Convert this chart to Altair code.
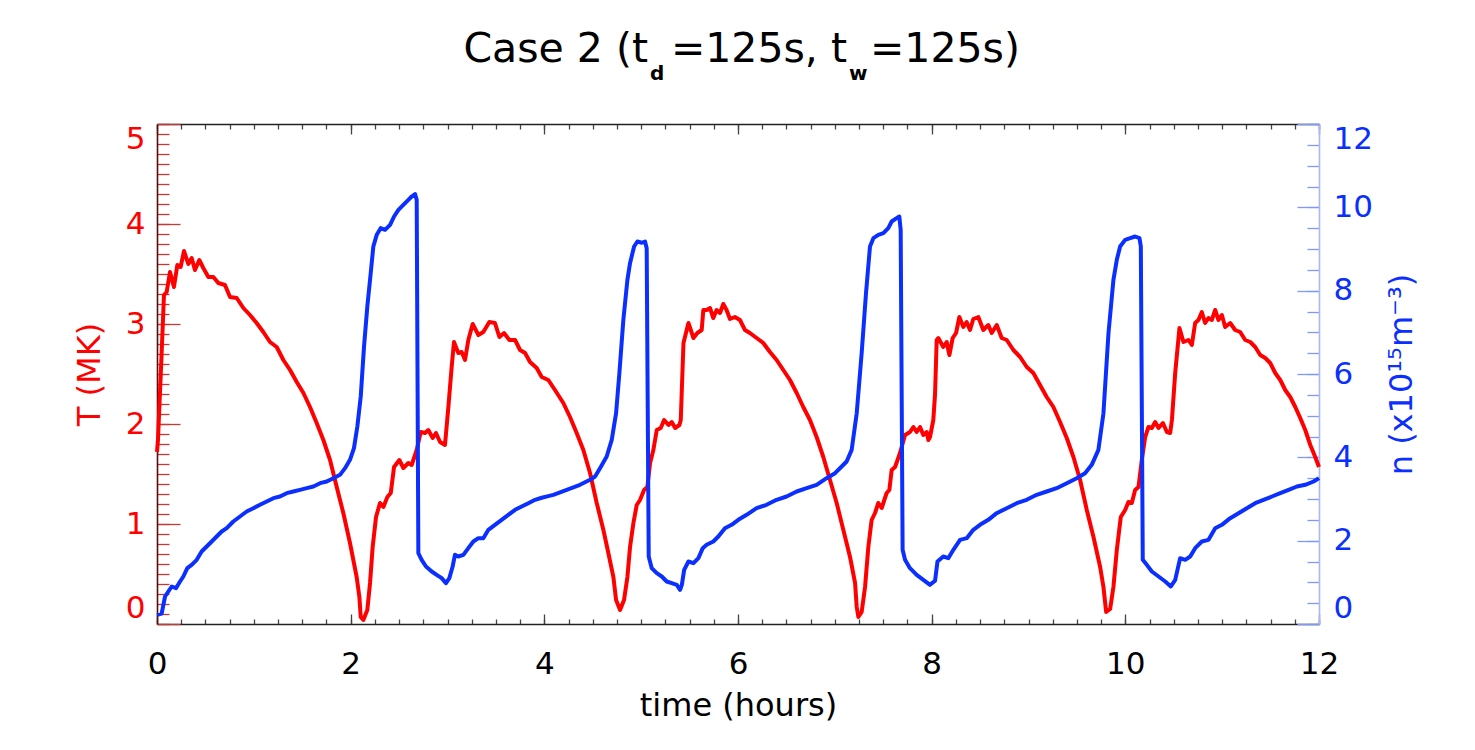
import altair as alt
import pandas as pd

# Loop-top temperature (MK) against time (hours)
temperature = [
    (0.0, 1.72), (0.01, 1.84), (0.048, 2.71), (0.072, 3.29), (0.10, 3.32), (0.134, 3.52),
    (0.175, 3.37), (0.21, 3.59), (0.244, 3.57), (0.279, 3.73), (0.323, 3.60), (0.358, 3.66),
    (0.392, 3.54), (0.437, 3.64), (0.478, 3.56), (0.53, 3.47), (0.582, 3.47), (0.633, 3.41),
    (0.702, 3.39), (0.754, 3.27), (0.823, 3.26), (0.892, 3.16), (0.96, 3.09), (1.029, 3.01),
    (1.098, 2.92), (1.167, 2.82), (1.236, 2.77), (1.305, 2.64), (1.374, 2.54), (1.443, 2.42),
    (1.512, 2.31), (1.58, 2.17), (1.649, 2.01), (1.718, 1.84), (1.787, 1.64), (1.856, 1.37),
    (1.924, 1.11), (1.993, 0.81), (2.062, 0.47), (2.09, 0.27), (2.104, 0.07), (2.131, 0.04),
    (2.172, 0.14), (2.2, 0.41), (2.227, 0.77), (2.262, 1.07), (2.303, 1.21), (2.338, 1.17),
    (2.379, 1.27), (2.414, 1.31), (2.448, 1.57), (2.503, 1.64), (2.544, 1.56), (2.596, 1.61),
    (2.63, 1.59), (2.682, 1.74), (2.723, 1.92), (2.768, 1.91), (2.802, 1.94), (2.847, 1.86),
    (2.881, 1.91), (2.923, 1.82), (2.974, 1.79), (3.009, 2.17), (3.043, 2.57), (3.067, 2.82),
    (3.112, 2.71), (3.146, 2.72), (3.181, 2.64), (3.215, 2.84), (3.26, 3.00), (3.319, 2.89),
    (3.37, 2.92), (3.432, 3.02), (3.49, 3.01), (3.536, 2.87), (3.584, 2.91), (3.639, 2.84),
    (3.698, 2.84), (3.749, 2.74), (3.801, 2.71), (3.852, 2.62), (3.921, 2.56), (3.973, 2.47),
    (4.041, 2.44), (4.11, 2.34), (4.196, 2.21), (4.265, 2.07), (4.334, 1.91), (4.403, 1.74),
    (4.472, 1.51), (4.541, 1.21), (4.61, 0.94), (4.661, 0.71), (4.713, 0.47), (4.741, 0.24),
    (4.782, 0.14), (4.823, 0.24), (4.858, 0.47), (4.885, 0.77), (4.92, 1.01), (4.954, 1.19),
    (4.988, 1.24), (5.03, 1.34), (5.064, 1.37), (5.092, 1.61), (5.126, 1.74), (5.161, 1.94),
    (5.202, 1.96), (5.237, 2.04), (5.282, 1.99), (5.316, 2.02), (5.351, 1.96), (5.395, 1.99),
    (5.409, 2.04), (5.437, 2.81), (5.488, 3.01), (5.54, 2.86), (5.58, 2.91), (5.625, 2.94),
    (5.642, 3.14), (5.676, 3.14), (5.711, 3.16), (5.745, 3.06), (5.779, 3.14), (5.814, 3.11),
    (5.848, 3.20), (5.882, 3.14), (5.917, 3.05), (5.968, 3.07), (6.02, 3.04), (6.072, 2.94),
    (6.123, 2.91), (6.192, 2.86), (6.261, 2.81), (6.33, 2.72), (6.399, 2.64), (6.468, 2.54),
    (6.537, 2.44), (6.606, 2.31), (6.674, 2.17), (6.743, 2.04), (6.812, 1.87), (6.881, 1.67),
    (6.95, 1.44), (7.019, 1.21), (7.088, 0.94), (7.157, 0.67), (7.209, 0.41), (7.226, 0.17),
    (7.243, 0.07), (7.277, 0.12), (7.312, 0.37), (7.346, 0.77), (7.38, 1.04), (7.415, 1.11),
    (7.449, 1.21), (7.484, 1.16), (7.535, 1.31), (7.563, 1.34), (7.587, 1.54), (7.622, 1.57),
    (7.673, 1.71), (7.725, 1.89), (7.776, 1.92), (7.811, 1.97), (7.845, 1.92), (7.88, 1.97),
    (7.914, 1.89), (7.949, 1.92), (7.966, 1.84), (7.983, 1.87), (8.017, 2.04), (8.035, 2.30),
    (8.052, 2.84), (8.069, 2.86), (8.12, 2.77), (8.155, 2.82), (8.183, 2.69), (8.217, 2.86),
    (8.252, 2.91), (8.286, 3.07), (8.327, 2.97), (8.361, 3.02), (8.396, 2.94), (8.43, 3.05),
    (8.482, 3.07), (8.533, 2.94), (8.585, 2.99), (8.62, 2.91), (8.672, 2.99), (8.723, 2.86),
    (8.775, 2.84), (8.844, 2.74), (8.913, 2.67), (8.982, 2.57), (9.05, 2.51), (9.119, 2.39),
    (9.188, 2.27), (9.257, 2.17), (9.326, 2.02), (9.395, 1.86), (9.464, 1.67), (9.533, 1.44),
    (9.602, 1.14), (9.671, 0.87), (9.74, 0.57), (9.774, 0.37), (9.802, 0.12), (9.843, 0.15),
    (9.877, 0.37), (9.912, 0.74), (9.953, 1.07), (9.998, 1.14), (10.032, 1.22), (10.067, 1.21),
    (10.101, 1.34), (10.136, 1.37), (10.17, 1.64), (10.205, 1.87), (10.239, 1.97), (10.274, 1.96),
    (10.308, 2.02), (10.343, 1.96), (10.388, 2.01), (10.429, 1.92), (10.463, 1.91), (10.481, 2.04),
    (10.515, 2.51), (10.559, 2.96), (10.6, 2.82), (10.652, 2.84), (10.687, 2.79), (10.721, 3.01),
    (10.755, 3.04), (10.79, 3.12), (10.824, 3.01), (10.859, 3.06), (10.893, 3.04), (10.928, 3.14),
    (10.962, 3.04), (10.997, 3.09), (11.031, 2.97), (11.083, 3.01), (11.134, 2.94), (11.186, 2.92),
    (11.238, 2.84), (11.29, 2.82), (11.341, 2.77), (11.393, 2.69), (11.445, 2.66), (11.496, 2.61),
    (11.548, 2.51), (11.6, 2.44), (11.651, 2.34), (11.703, 2.27), (11.755, 2.17), (11.806, 2.06),
    (11.858, 1.94), (11.91, 1.79), (11.961, 1.67), (12.0, 1.57),
]

# Loop-top density (10^15 m^-3) against time (hours)
density = [
    (0.0, 0.22), (0.048, 0.25), (0.083, 0.66), (0.117, 0.78), (0.152, 0.90), (0.196, 0.86),
    (0.238, 1.02), (0.272, 1.14), (0.313, 1.34), (0.358, 1.42), (0.41, 1.54), (0.461, 1.74),
    (0.513, 1.86), (0.565, 1.98), (0.616, 2.10), (0.668, 2.22), (0.72, 2.30), (0.788, 2.46),
    (0.857, 2.58), (0.926, 2.70), (0.995, 2.78), (1.064, 2.86), (1.133, 2.94), (1.202, 3.02),
    (1.27, 3.06), (1.339, 3.14), (1.408, 3.18), (1.477, 3.22), (1.546, 3.26), (1.615, 3.30),
    (1.684, 3.38), (1.753, 3.42), (1.821, 3.50), (1.89, 3.58), (1.942, 3.74), (1.993, 3.94),
    (2.034, 4.22), (2.069, 4.74), (2.104, 5.46), (2.138, 6.66), (2.172, 7.62), (2.207, 8.42),
    (2.234, 9.06), (2.269, 9.34), (2.31, 9.50), (2.355, 9.46), (2.407, 9.58), (2.448, 9.78),
    (2.493, 9.94), (2.544, 10.06), (2.596, 10.18), (2.63, 10.26), (2.665, 10.32), (2.682, 10.18),
    (2.699, 1.70), (2.733, 1.54), (2.778, 1.38), (2.837, 1.26), (2.888, 1.18), (2.94, 1.10),
    (2.984, 0.98), (3.019, 1.10), (3.053, 1.38), (3.077, 1.66), (3.112, 1.62), (3.164, 1.66),
    (3.215, 1.82), (3.267, 1.98), (3.319, 2.06), (3.37, 2.06), (3.422, 2.26), (3.49, 2.38),
    (3.559, 2.50), (3.628, 2.62), (3.698, 2.74), (3.766, 2.82), (3.835, 2.90), (3.904, 2.98),
    (3.973, 3.03), (4.041, 3.07), (4.093, 3.10), (4.231, 3.22), (4.368, 3.34), (4.472, 3.46),
    (4.524, 3.54), (4.575, 3.74), (4.644, 4.02), (4.696, 4.42), (4.741, 5.06), (4.775, 6.02),
    (4.816, 7.30), (4.858, 8.26), (4.885, 8.66), (4.927, 9.06), (4.961, 9.18), (5.006, 9.15),
    (5.04, 9.18), (5.057, 9.02), (5.064, 6.50), (5.078, 1.62), (5.109, 1.34), (5.161, 1.22),
    (5.213, 1.14), (5.264, 1.02), (5.316, 0.98), (5.368, 0.94), (5.402, 0.82), (5.42, 0.94),
    (5.444, 1.30), (5.488, 1.50), (5.54, 1.46), (5.591, 1.58), (5.636, 1.82), (5.676, 1.90),
    (5.745, 1.98), (5.797, 2.10), (5.865, 2.30), (5.934, 2.38), (6.003, 2.50), (6.089, 2.62),
    (6.192, 2.78), (6.295, 2.86), (6.399, 2.98), (6.502, 3.06), (6.606, 3.18), (6.709, 3.26),
    (6.812, 3.34), (6.915, 3.50), (7.002, 3.62), (7.071, 3.78), (7.122, 3.90), (7.174, 4.18),
    (7.226, 5.06), (7.277, 6.50), (7.322, 7.94), (7.363, 9.06), (7.398, 9.26), (7.449, 9.34),
    (7.501, 9.38), (7.552, 9.50), (7.587, 9.66), (7.638, 9.74), (7.666, 9.78), (7.68, 9.46),
    (7.70, 1.78), (7.725, 1.54), (7.776, 1.34), (7.845, 1.18), (7.914, 1.06), (7.983, 0.94),
    (8.035, 1.04), (8.06, 1.50), (8.12, 1.62), (8.172, 1.58), (8.224, 1.78), (8.293, 2.02),
    (8.362, 2.06), (8.43, 2.26), (8.499, 2.38), (8.585, 2.50), (8.671, 2.66), (8.775, 2.78),
    (8.878, 2.90), (8.981, 2.98), (9.085, 3.10), (9.188, 3.18), (9.291, 3.26), (9.395, 3.38),
    (9.498, 3.50), (9.584, 3.62), (9.653, 3.82), (9.722, 4.18), (9.774, 5.06), (9.826, 6.98),
    (9.877, 8.26), (9.912, 8.74), (9.946, 9.06), (9.998, 9.22), (10.05, 9.26), (10.101, 9.30),
    (10.146, 9.26), (10.16, 9.06), (10.18, 1.54), (10.222, 1.42), (10.274, 1.26), (10.343, 1.14),
    (10.412, 1.02), (10.47, 0.90), (10.515, 1.06), (10.566, 1.58), (10.618, 1.54), (10.67, 1.62),
    (10.721, 1.82), (10.79, 1.98), (10.859, 2.02), (10.928, 2.30), (10.997, 2.38), (11.083, 2.54),
    (11.169, 2.66), (11.255, 2.78), (11.341, 2.90), (11.427, 2.98), (11.514, 3.06), (11.6, 3.14),
    (11.686, 3.22), (11.772, 3.30), (11.858, 3.34), (11.944, 3.42), (12.0, 3.50),
]

# Tick positions
hour_major = [0, 2, 4, 6, 8, 10, 12]
hour_minor = [i * 0.25 for i in range(49)]
temp_major = [0, 1, 2, 3, 4, 5]
temp_minor = [round(i * 0.1, 1) for i in range(51)]
dens_major = [0, 2, 4, 6, 8, 10, 12]
dens_minor = [i * 0.5 for i in range(25)]

# Title pieces: (text, x, y, size, weight, align)
title_parts = [
    ("Case 2 (t", 491, -62, 41, "normal", "right"),
    ("d", 493, -44, 20, "bold", "left"),
    ("=125s, t", 690, -62, 41, "normal", "right"),
    ("w", 692, -44, 20, "bold", "left"),
    ("=125s)", 713, -62, 41, "normal", "left"),
]

FONT = "DejaVu Sans"
W, H = 1162, 500
RED = "#ff0000"
BLUE = "#0a2fff"
LBL = 31

df_t = pd.DataFrame(temperature, columns=["hours", "T"])
df_n = pd.DataFrame(density, columns=["hours", "n"])

x_scale = alt.Scale(domain=[0, 12], nice=False, zero=False)
t_scale = alt.Scale(domain=[0, 5], nice=False, zero=False)
n_scale = alt.Scale(domain=[0, 12], nice=False, zero=False)


def tick_axis(orient, values, size, color):
    # inward-pointing ticks: shift the axis into the plot by its tick length
    return alt.Axis(orient=orient, values=values, offset=-size, tickSize=size,
                    tickColor=color, tickWidth=1.3, domain=False, labels=False,
                    grid=False, title=None)


x_bottom = alt.Axis(
    orient="bottom", values=hour_major, ticks=False, tickSize=0, grid=False,
    domainColor="#222222", domainWidth=1.6, format="d",
    labelFont=FONT, labelFontSize=LBL, labelColor="black", labelPadding=25, labelFlush=False,
    title="time (hours)", titleFont=FONT, titleFontSize=32, titleFontWeight="normal",
    titleColor="black", titleX=581, titleY=81, titleAlign="center", titleBaseline="middle",
)
x_top = alt.Axis(orient="top", labels=False, ticks=False, tickSize=0, grid=False,
                 domainColor="#222222", domainWidth=1.6, title=None)

y_temp = alt.Axis(
    orient="left", values=temp_major, ticks=False, tickSize=0, grid=False,
    domainColor="#5c0b0b", domainWidth=1.6, format="d",
    labelFont=FONT, labelFontSize=LBL, labelColor=RED, labelPadding=12, labelFlush=True,
    title="T (MK)", titleFont=FONT, titleFontSize=32, titleFontWeight="normal",
    titleColor=RED, titleAngle=270, titleX=-68, titleY=250, titleAlign="center",
    titleBaseline="middle",
)
y_dens = alt.Axis(
    orient="right", values=dens_major, ticks=False, tickSize=0, grid=False,
    domainColor="#a9b6ff", domainWidth=1.6, format="d",
    labelFont=FONT, labelFontSize=LBL, labelColor=BLUE, labelPadding=14, labelFlush=True,
    title="n (x10¹⁵m⁻³)", titleFont=FONT, titleFontSize=32, titleFontWeight="normal",
    titleColor=BLUE, titleAngle=270, titleX=82, titleY=250, titleAlign="center",
    titleBaseline="middle",
)


def ghost(df, field, yscale, xaxis, yaxis):
    return alt.Chart(df).mark_line(opacity=0).encode(
        x=alt.X("hours:Q", scale=x_scale, axis=xaxis),
        y=alt.Y(f"{field}:Q", scale=yscale, axis=yaxis),
    )


tick_layers = [
    ghost(df_t, "T", t_scale, tick_axis("bottom", hour_major, 10, "#444444"),
          tick_axis("left", temp_major, 23, "#c23a3a")),
    ghost(df_t, "T", t_scale, tick_axis("bottom", hour_minor, 5, "#444444"),
          tick_axis("left", temp_minor, 12, "#c23a3a")),
    ghost(df_n, "n", n_scale, tick_axis("top", hour_major, 10, "#444444"),
          tick_axis("right", dens_major, 22, "#7f97ff")),
    ghost(df_n, "n", n_scale, tick_axis("top", hour_minor, 5, "#444444"),
          tick_axis("right", dens_minor, 12, "#7f97ff")),
]

temp_line = alt.Chart(df_t).mark_line(color=RED, strokeWidth=4, strokeJoin="round").encode(
    x=alt.X("hours:Q", scale=x_scale, axis=x_bottom),
    y=alt.Y("T:Q", scale=t_scale, axis=y_temp),
)
dens_line = alt.Chart(df_n).mark_line(color=BLUE, strokeWidth=4, strokeJoin="round").encode(
    x=alt.X("hours:Q", scale=x_scale, axis=x_top),
    y=alt.Y("n:Q", scale=n_scale, axis=y_dens),
)

one_row = pd.DataFrame({"k": [0]})
title_layers = [
    alt.Chart(one_row).mark_text(
        text=txt, font=FONT, fontSize=size, fontWeight=weight, color="black",
        align=anchor, baseline="alphabetic",
    ).encode(x=alt.value(px), y=alt.value(py))
    for txt, px, py, size, weight, anchor in title_parts
]

chart = alt.layer(*tick_layers, temp_line, dens_line, *title_layers).resolve_scale(
    x="independent", y="independent"
).properties(
    width=W, height=H,
    autosize=alt.AutoSizeParams(type="none"),
    padding={"left": 157, "top": 124, "right": 156, "bottom": 126},
    background="white",
).configure_view(stroke=None)

chart.save("out.html", embed_options={"renderer": "svg", "actions": False})
